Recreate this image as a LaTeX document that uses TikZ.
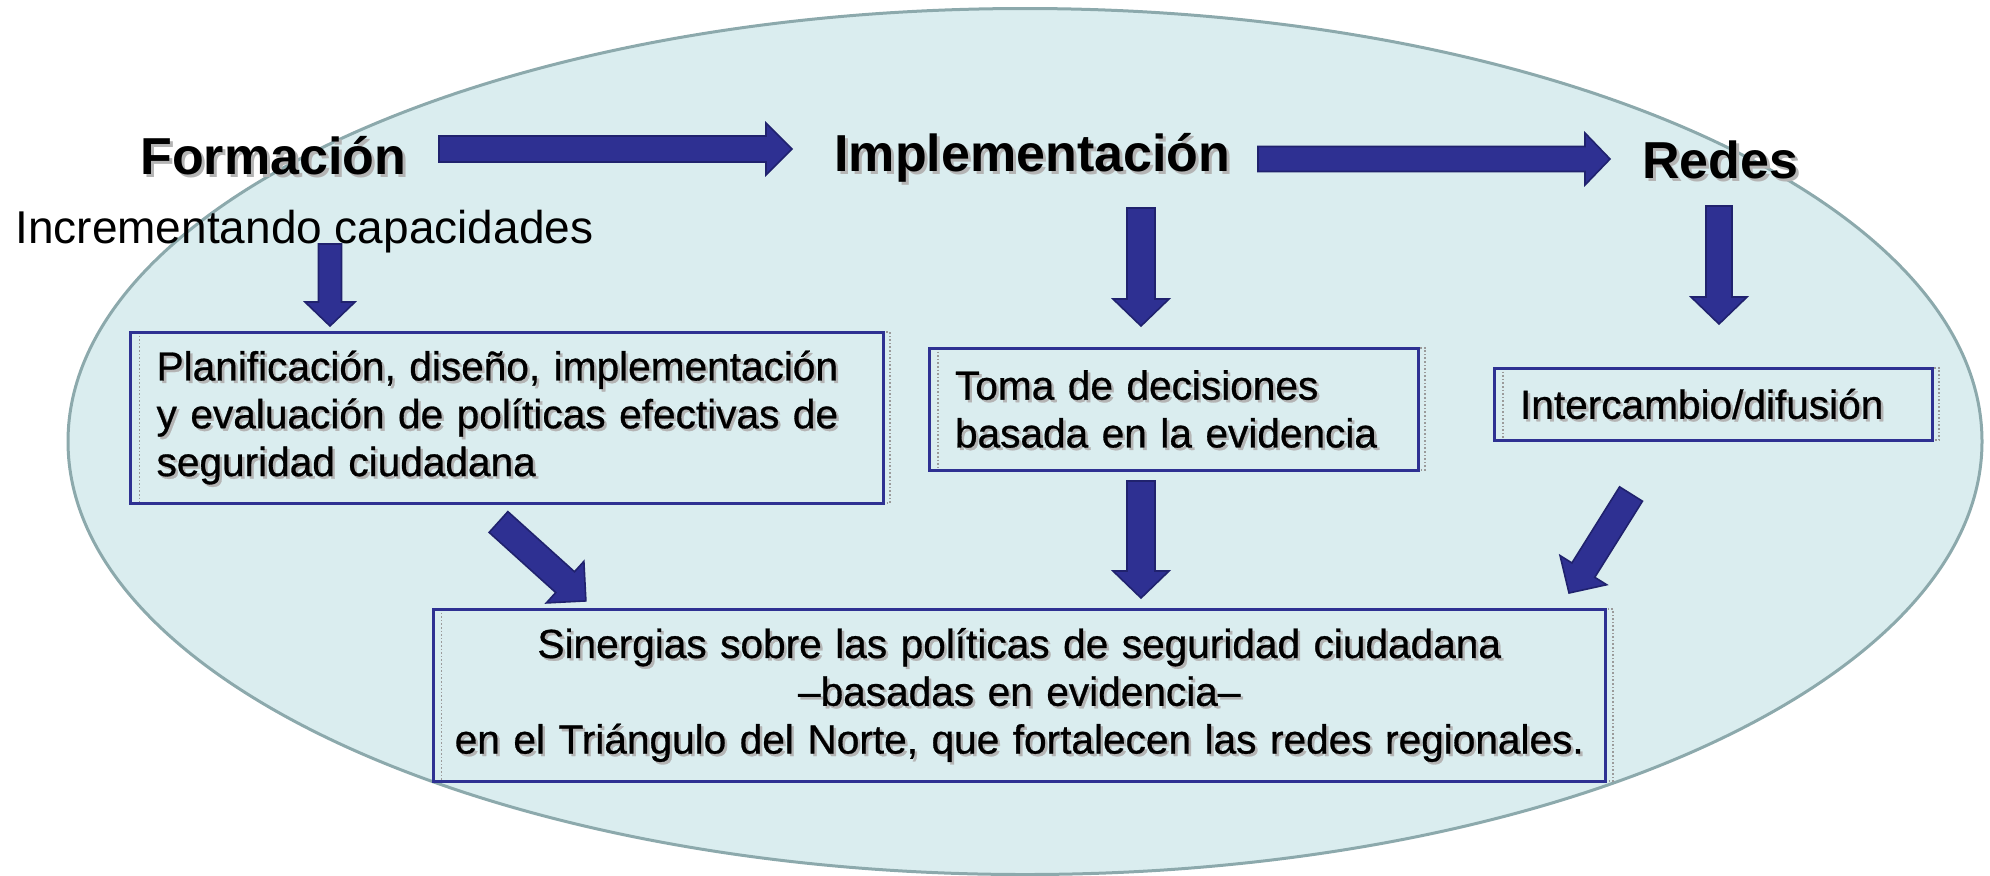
\documentclass[tikz,border=0pt]{standalone}
\usepackage{fontspec}
\setmainfont{Liberation Sans}
\newfontfamily\boxfont[FakeBold=0.7]{Liberation Sans}
\usetikzlibrary{calc}
\definecolor{ellfill}{HTML}{DAEDEF}
\definecolor{elldraw}{HTML}{8CA9AC}
\definecolor{arrfill}{HTML}{2E3092}
\definecolor{arrdraw}{HTML}{20226E}
\definecolor{boxblue}{HTML}{2E3192}
\definecolor{framegray}{HTML}{9A9A9A}
\definecolor{shadowgray}{HTML}{B4B4B4}
\tikzset{
  title/.style={inner sep=0pt, anchor=base west, font=\fontsize{26}{30}\selectfont\bfseries},
  titleshadow/.style={title, text=shadowgray},
  subtitle/.style={inner sep=0pt, anchor=base west, font=\fontsize{23}{27}\selectfont},
  stepbox/.style={draw=boxblue, line width=1.5pt, inner xsep=13pt, inner ysep=0pt,
    font=\boxfont\fontsize{20.3}{23.9}\selectfont},
  stepshadow/.style={stepbox, draw=none, text=shadowgray},
  grayframe/.style={draw=framegray, line width=0.8pt, densely dotted},
  blockarrow/.style={fill=arrfill, draw=arrdraw, line width=0.8pt, line join=miter},
  b1size/.style={minimum width=376.2pt, minimum height=85.5pt, text width=350.2pt, align=left},
  b2size/.style={minimum width=244.5pt, minimum height=61pt, text width=218.5pt, align=left},
  b3size/.style={minimum width=219pt, minimum height=36pt, text width=193pt, align=left},
  b4size/.style={inner xsep=6pt, minimum width=585.75pt, minimum height=86pt, text width=573.75pt, align=center},
}
% block arrow: #1 from, #2 tip, #3 shaft width, #4 head width, #5 head length (px)
\newcommand\blockarr[5]{%
  \path (#1); \pgfgetlastxy{\BAx}{\BAy}%
  \path (#2); \pgfgetlastxy{\BBx}{\BBy}%
  \pgfmathsetmacro\BAang{atan2((\BBy)-(\BAy),(\BBx)-(\BAx))}%
  \pgfmathsetmacro\BAlen{veclen((\BBx)-(\BAx),(\BBy)-(\BAy))}%
  \pgfmathsetmacro\BAs{#3*0.25}%
  \pgfmathsetmacro\BAh{#4*0.25}%
  \pgfmathsetmacro\BAb{\BAlen-#5*0.5}%
  \begin{scope}[shift={(\BAx,\BAy)}, rotate=\BAang]
    \draw[blockarrow] (0pt,-\BAs pt) -- (\BAb pt,-\BAs pt) -- (\BAb pt,-\BAh pt)
      -- (\BAlen pt,0pt) -- (\BAb pt,\BAh pt) -- (\BAb pt,\BAs pt) -- (0pt,\BAs pt) -- cycle;
  \end{scope}}
\begin{document}
\begin{tikzpicture}[x=0.5pt,y=-0.5pt]
\useasboundingbox (0,0) rectangle (1990,875);
% background ellipse
\draw[fill=ellfill, draw=elldraw, line width=1.5pt] (1025,441.5) ellipse [x radius=478.5pt, y radius=216.5pt];

% titles
\node[titleshadow] (forms) at (143,177) {Formación};
\node[title] (form) at (140,174) {Formación};
\node[titleshadow] (impls) at (837,174) {Implementación};
\node[title] (impl) at (834,171) {Implementación};
\node[titleshadow] (redess) at (1645,181) {Redes};
\node[title] (redes) at (1642,178) {Redes};
\node[subtitle] (incr) at (15,243) {Incrementando capacidades};

% boxes
\draw[grayframe] (139.6,332) rectangle (890,503);
\node[stepshadow, b1size] (b1s) at (509.3,420) {Planificación, diseño, implementación\\y evaluación de políticas efectivas de\\seguridad ciudadana};
\node[stepbox, b1size] (b1) at (506.8,417.5) {Planificación, diseño, implementación\\y evaluación de políticas efectivas de\\seguridad ciudadana};

\draw[grayframe] (938,348) rectangle (1425,470);
\node[stepshadow, b2size] (b2s) at (1176,411.5) {Toma de decisiones\\basada en la evidencia};
\node[stepbox, b2size] (b2) at (1173.5,409) {Toma de decisiones\\basada en la evidencia};

\draw[grayframe] (1503,368) rectangle (1939,440);
\node[stepshadow, b3size] (b3s) at (1715.5,406.5) {Intercambio/difusión};
\node[stepbox, b3size] (b3) at (1713,404) {Intercambio/difusión};

\draw[grayframe] (441.5,609) rectangle (1613,781);
\node[stepshadow, b4size] (b4s) at (1021.8,697.5) {Sinergias sobre las políticas de seguridad ciudadana\\–basadas en evidencia–\\en el Triángulo del Norte, que fortalecen las redes regionales.};
\node[stepbox, b4size] (b4) at (1019.3,695) {Sinergias sobre las políticas de seguridad ciudadana\\–basadas en evidencia–\\en el Triángulo del Norte, que fortalecen las redes regionales.};

% arrow end points
\coordinate (a1s) at (439,149);   \coordinate (a1e) at (792,149);
\coordinate (a2s) at (1258,159);  \coordinate (a2e) at (1610,159);
\coordinate (a3s) at (330,244);   \coordinate (a3e) at (330,326);
\coordinate (a4s) at (1141,208);  \coordinate (a4e) at (1141,326);
\coordinate (a5s) at (1719,206);  \coordinate (a5e) at (1719,324);
\coordinate (a6s) at (1141,481);  \coordinate (a6e) at (1141,598);
\coordinate (a7s) at (498.5,522); \coordinate (a7e) at (586,601);
\coordinate (a8s) at (1631,494);  \coordinate (a8e) at (1569,593);

\blockarr{a1s}{a1e}{26}{52}{26}
\blockarr{a2s}{a2e}{25}{52}{25}
\blockarr{a3s}{a3e}{23}{50}{24}
\blockarr{a4s}{a4e}{28}{56}{27}
\blockarr{a5s}{a5e}{26}{56}{27}
\blockarr{a6s}{a6e}{28}{56}{27}
\blockarr{a7s}{a7e}{28}{56}{28}
\blockarr{a8s}{a8e}{27}{55}{27}
\end{tikzpicture}
\end{document}
